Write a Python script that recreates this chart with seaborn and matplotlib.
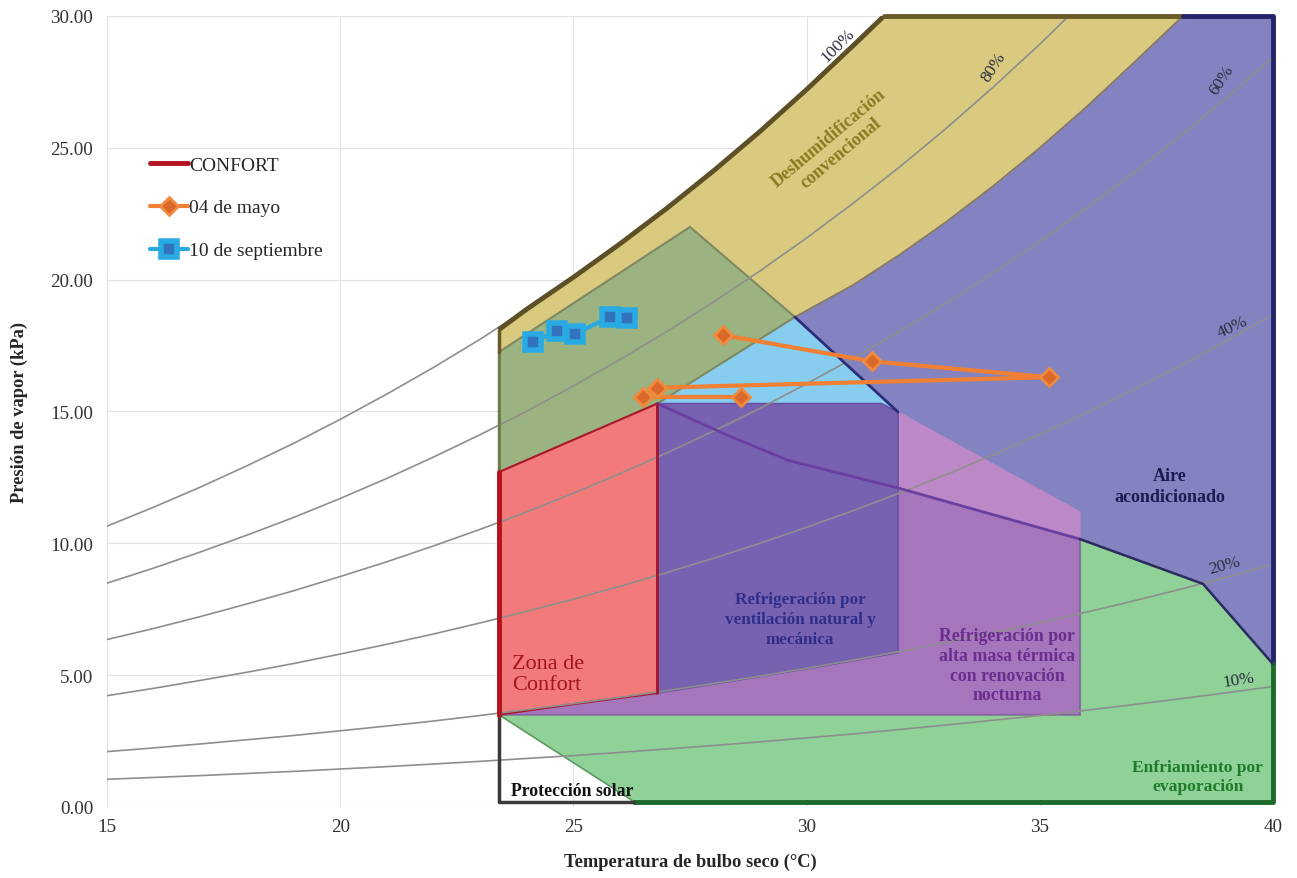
import numpy as np
import pandas as pd
import matplotlib
matplotlib.use('Agg')
import matplotlib.pyplot as plt
import seaborn as sns

# relative humidity curves (humidity read at each whole degree from 15 °C)
t_curve = list(range(15, 41))
rh_curves = {
    '100%': [10.65, 11.37, 12.13, 12.94, 13.79, 14.70, 15.66, 16.67, 17.74, 18.88, 20.09,
             21.36, 22.70, 24.12, 25.62, 27.21, 28.88, 30.65],
    '80%': [8.49, 9.06, 9.67, 10.31, 10.98, 11.70, 12.46, 13.27, 14.12, 15.01, 15.97,
            16.97, 18.03, 19.15, 20.33, 21.58, 22.90, 24.28, 25.75, 27.30, 28.93, 30.65],
    '60%': [6.35, 6.77, 7.22, 7.70, 8.20, 8.74, 9.30, 9.90, 10.53, 11.19, 11.90, 12.64,
            13.43, 14.25, 15.12, 16.05, 17.02, 18.04, 19.12, 20.25, 21.45, 22.71, 24.03,
            25.43, 26.90, 28.44],
    '40%': [4.22, 4.50, 4.80, 5.11, 5.44, 5.80, 6.17, 6.56, 6.98, 7.42, 7.88, 8.37, 8.89,
            9.43, 10.00, 10.61, 11.24, 11.91, 12.61, 13.36, 14.13, 14.95, 15.82, 16.72,
            17.68, 18.68],
    '20%': [2.10, 2.24, 2.39, 2.55, 2.71, 2.89, 3.07, 3.26, 3.47, 3.69, 3.92, 4.16, 4.41,
            4.68, 4.96, 5.26, 5.57, 5.90, 6.24, 6.61, 6.99, 7.39, 7.81, 8.25, 8.71, 9.20],
    '10%': [1.05, 1.12, 1.19, 1.27, 1.35, 1.44, 1.53, 1.63, 1.73, 1.84, 1.95, 2.07, 2.20,
            2.33, 2.47, 2.62, 2.77, 2.94, 3.11, 3.29, 3.47, 3.67, 3.88, 4.10, 4.33, 4.57],
}
rh_label_x = [30.67, 34.02, 38.9, 39.12, 38.97, 39.27]
rh_label_y = [28.9, 28.1, 27.6, 18.2, 9.18, 4.85]
rh_label_rot = [45, 57, 57, 25, 15, 9]

# saturation boundary (upper edge of the chart zones)
sat_x = [23.4, 24, 25, 26, 27, 28, 29, 30, 31, 31.66]
sat_y = [18.1, 18.88, 20.09, 21.36, 22.70, 24.12, 25.62, 27.21, 28.88, 30.0]
# lower edge of the dehumidification zone
deh_x = [29.75, 31, 32, 33, 34, 35, 36, 37, 38.07]
deh_y = [18.58, 19.8, 20.95, 22.2, 23.55, 25.0, 26.55, 28.2, 30.0]

# zone vertices
green_ol_x = [23.4, 23.4, 27.5, 29.75, 26.8]
green_ol_y = [12.6, 17.25, 22.0, 18.58, 15.3]
light_x = [26.8, 29.75, 31.96, 31.6]
light_y = [15.3, 18.58, 14.98, 15.3]
evap_x = [23.4, 26.3, 40, 40, 38.5, 35.86, 35.86]
evap_y = [3.5, 0.2, 0.2, 5.42, 8.46, 10.16, 3.5]
mass_x = [23.4, 35.86, 35.86, 31.96, 29.6, 26.8, 23.4]
mass_y = [3.5, 3.5, 10.16, 12.1, 13.15, 15.3, 12.6]
mass_up_x = [31.96, 35.86, 35.86, 31.96]
mass_up_y = [12.1, 10.16, 11.19, 14.98]
vent_x = [26.8, 31.6, 31.96, 31.96, 30.2, 28.5, 26.8]
vent_y = [15.3, 15.3, 14.98, 5.85, 5.3, 4.8, 4.32]
conf_x = [23.4, 23.4, 26.8, 26.8, 25.0, 23.4]
conf_y = [3.5, 12.7, 15.3, 4.32, 3.9, 3.5]
ac_edge_x = [26.8, 28.3, 29.6, 31.96, 35.86, 38.5, 40]
ac_edge_y = [15.3, 14.1, 13.15, 12.1, 10.16, 8.46, 5.42]

# measured days
mayo_t = [28.2, 31.4, 35.2, 26.8, 26.5, 28.6]
mayo_w = [17.9, 16.9, 16.3, 15.9, 15.55, 15.55]
sept_t = [24.13, 24.65, 25.03, 25.78, 26.15]
sept_w = [17.63, 18.05, 17.94, 18.58, 18.54]

sns.set_theme(style='white')
plt.rcParams['font.family'] = ['Liberation Serif', 'DejaVu Serif']

fig = plt.figure(figsize=(12.97, 8.79), dpi=100)
ax = fig.add_axes([0.0825, 0.0808, 0.899, 0.8999])
ax.set_xlim(15, 40)
ax.set_ylim(0, 30)
ax.grid(True, color='#E2E2E2', lw=0.8)
ax.set_axisbelow(True)
for s in ax.spines.values():
    s.set_visible(False)

# zones
yellow_x = sat_x + deh_x[::-1] + [27.5, 23.4]
yellow_y = sat_y + deh_y[::-1] + [22.0, 17.25]
ax.fill(yellow_x, yellow_y, color='#DACA80', zorder=1)
ac_x = deh_x + [40, 40, 38.5, 35.86, 35.86, 31.96]
ac_y = deh_y + [30, 5.42, 8.46, 10.16, 11.19, 14.98]
ax.fill(ac_x, ac_y, color='#8383C1', zorder=1)
ax.plot(deh_x, deh_y, color='#8C7A5A', lw=1.2, zorder=1.05)
ax.fill(light_x, light_y, color='#86CDF0', zorder=1)
ax.fill(green_ol_x, green_ol_y, facecolor='#9BB381', edgecolor='#7F8862', lw=1.5, zorder=1.1)
ax.fill(evap_x, evap_y, facecolor='#8FD196', edgecolor='#5E9A64', lw=1.2, zorder=1.1)
ax.fill(mass_x, mass_y, facecolor='#A676BD', edgecolor='#8A62A8', lw=1.2, zorder=1.2)
ax.fill(mass_up_x, mass_up_y, color='#BC88C8', zorder=1.2)
ax.fill(vent_x, vent_y, facecolor='#7762B2', edgecolor='#6A52A2', lw=1.2, zorder=1.3)
ax.fill(conf_x, conf_y, facecolor='#F27A7A', edgecolor='#A8182A', lw=1.5, zorder=1.4)

# relative humidity curves
rh_df = pd.concat([pd.DataFrame({'t': t_curve[:len(v)], 'w': v, 'rh': k})
                   for k, v in rh_curves.items()])
sns.lineplot(data=rh_df, x='t', y='w', units='rh', estimator=None, sort=False,
             color='#8E8E8E', lw=1.2, ax=ax, zorder=2, legend=False)
for lab, x, y, r in zip(rh_curves.keys(), rh_label_x, rh_label_y, rh_label_rot):
    ax.text(x, y, lab, rotation=r, ha='center', va='center', fontsize=12.5,
            color='#2E2E40', zorder=6)

# borders
ax.plot(sat_x, sat_y, color='#5E5026', lw=3.5, zorder=3, solid_capstyle='butt')
ax.plot([31.66, 38.07], [30, 30], color='#6A5A2A', lw=3.5, zorder=3, clip_on=False)
ax.plot([38.07, 40, 40], [30, 30, 5.42], color='#24246A', lw=3.5, zorder=3, clip_on=False)
ax.plot([40, 40, 26.3], [5.42, 0.2, 0.2], color='#1E6A2A', lw=3.5, zorder=3, clip_on=False)
ax.plot([26.3, 23.4, 23.4], [0.2, 0.2, 3.5], color='#3A3A3A', lw=2.5, zorder=3)
ax.plot([23.4, 23.4], [12.6, 17.25], color='#6F7A4A', lw=2, zorder=3)
ax.plot([23.4, 23.4], [17.25, 18.1], color='#6A5A2A', lw=2.5, zorder=3)
ax.plot([29.75, 31.96], [18.58, 14.98], color='#2C2C7A', lw=2, zorder=3)
ax.plot(ac_edge_x[:5], ac_edge_y[:5], color='#6A3FA0', lw=2, zorder=3)
ax.plot(ac_edge_x[4:], ac_edge_y[4:], color='#2B2B60', lw=1.8, zorder=3)
ax.plot([26.8, 26.8], [4.32, 15.3], color='#A01830', lw=2, zorder=3)
ax.plot([23.4, 23.4], [3.5, 12.7], color='#B3121E', lw=3.5, zorder=3, label='CONFORT')

# zone labels
ax.text(30.6, 25.1, 'Deshumidificación\nconvencional', rotation=40, ha='center', va='center',
        fontsize=13, fontweight='bold', color='#8A7B22', rotation_mode='anchor', zorder=6)
ax.text(37.79, 12.17, 'Aire\nacondicionado', ha='center', va='center', fontsize=13,
        fontweight='bold', color='#1C1C50', linespacing=1.3, zorder=6)
ax.text(29.86, 7.13, 'Refrigeración por\nventilación natural y\nmecánica', ha='center',
        va='center', fontsize=12.3, fontweight='bold', color='#2E2E8A', linespacing=1.3, zorder=6)
ax.text(34.3, 5.38, 'Refrigeración por\nalta masa térmica\ncon renovación\nnocturna',
        ha='center', va='center', fontsize=12.8, fontweight='bold', color='#6B2D8E',
        linespacing=1.22, zorder=6)
ax.text(23.68, 5.04, 'Zona de\nConfort', ha='left', va='center', fontsize=16,
        color='#A0151E', linespacing=1.15, zorder=6)
ax.text(24.97, 0.64, 'Protección solar', ha='center', va='center', fontsize=12.8,
        fontweight='bold', color='#111111', zorder=6)
ax.text(38.39, 1.14, 'Enfriamiento por\nevaporación', ha='center', va='center', fontsize=12.6,
        fontweight='bold', color='#1F7A2A', linespacing=1.25, zorder=6)

# measured days
mayo = pd.DataFrame({'t': mayo_t, 'w': mayo_w})
sept = pd.DataFrame({'t': sept_t, 'w': sept_w})
sns.lineplot(data=mayo, x='t', y='w', sort=False, estimator=None, color='#EE7F33', lw=3,
             marker='D', ms=9, mfc='#D9682A', mec='#F08A3C', mew=2, label='04 de mayo',
             ax=ax, zorder=5)
sns.lineplot(data=sept, x='t', y='w', sort=False, estimator=None, color='#2BA9E1', lw=3,
             marker='s', ms=11, mfc='#3373BC', mec='#2AAAE2', mew=4, label='10 de septiembre',
             ax=ax, zorder=5)

handles, labels = ax.get_legend_handles_labels()
order = [labels.index(l) for l in ['CONFORT', '04 de mayo', '10 de septiembre']]
ax.legend([handles[i] for i in order], [labels[i] for i in order], loc='upper left',
          bbox_to_anchor=(0.037, 0.823), frameon=False, fontsize=14, labelspacing=1.3,
          handlelength=1.95, handletextpad=0.05, borderpad=0, borderaxespad=0)

ax.set_xticks([15, 20, 25, 30, 35, 40])
ax.set_yticks([0, 5, 10, 15, 20, 25, 30])
ax.set_yticklabels([f'{v:.2f}' for v in [0, 5, 10, 15, 20, 25, 30]])
ax.tick_params(length=0, labelsize=13.8, labelcolor='#333333')
ax.tick_params(axis='y', pad=10)
ax.tick_params(axis='x', pad=8)
ax.set_xlabel('Temperatura de bulbo seco (°C)', fontsize=13.3, fontweight='bold', labelpad=13)
ax.set_ylabel('Presión de vapor (kPa)', fontsize=13.3, fontweight='bold', labelpad=16)

fig.savefig('out.png', dpi=100)
